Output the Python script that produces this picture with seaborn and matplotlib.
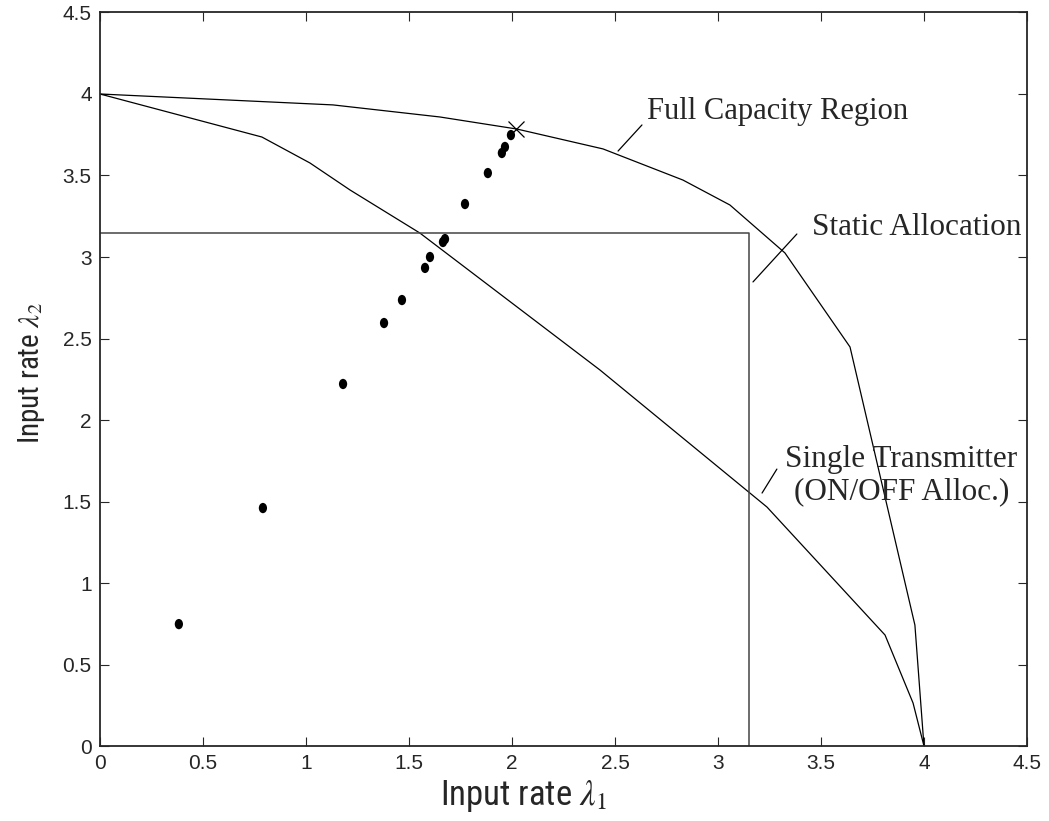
import numpy as np
import pandas as pd
import seaborn as sns
from matplotlib import pyplot as plt
from matplotlib.path import Path

# full capacity region boundary
full_x = [0.0, 1.131, 1.650, 2.024, 2.442, 2.830, 3.058, 3.325, 3.641, 3.956, 4.0]
full_y = [4.0, 3.933, 3.859, 3.785, 3.663, 3.472, 3.319, 3.025, 2.448, 0.742, 0.0]

# single transmitter (ON/OFF allocation)
single_x = [0.0, 0.786, 1.019, 1.214, 1.553, 2.427, 3.238, 3.811, 3.947, 4.0]
single_y = [4.0, 3.736, 3.577, 3.411, 3.147, 2.307, 1.466, 0.681, 0.264, 0.0]

# static allocation box
static_x = [0.0, 3.15, 3.15]
static_y = [3.15, 3.15, 0.0]

# simulated points
dots_x = [0.383, 0.791, 1.180, 1.379, 1.466, 1.578, 1.602, 1.665, 1.675, 1.772, 1.883, 1.951, 1.966, 1.995]
dots_y = [0.748, 1.460, 2.221, 2.595, 2.736, 2.933, 3.000, 3.092, 3.110, 3.325, 3.515, 3.638, 3.675, 3.748]

star_x = [2.019]
star_y = [3.785]

ticks = [0, 0.5, 1, 1.5, 2, 2.5, 3, 3.5, 4, 4.5]
tick_labels = ['0', '0.5', '1', '1.5', '2', '2.5', '3', '3.5', '4', '4.5']

sns.set_style("ticks")
plt.rcParams['font.family'] = ['Liberation Sans', 'DejaVu Sans']
plt.rcParams['mathtext.fontset'] = 'stix'

fig = plt.figure(figsize=(10.49, 8.21), dpi=100)
ax = fig.add_axes([0.0953, 0.0913, 0.8837, 0.8935])

df_full = pd.DataFrame({"x": full_x, "y": full_y})
df_single = pd.DataFrame({"x": single_x, "y": single_y})
df_static = pd.DataFrame({"x": static_x, "y": static_y})
df_dots = pd.DataFrame({"x": dots_x, "y": dots_y})

sns.lineplot(data=df_full, x="x", y="y", sort=False, estimator=None, color='black', linewidth=0.9, ax=ax)
sns.lineplot(data=df_single, x="x", y="y", sort=False, estimator=None, color='black', linewidth=0.9, ax=ax)
sns.lineplot(data=df_static, x="x", y="y", sort=False, estimator=None, color='#444444', linewidth=1.1, ax=ax)

circ = Path.unit_circle()
ellipse = Path(circ.vertices * np.array([0.8, 1.0]), circ.codes)
sns.scatterplot(data=df_dots, x="x", y="y", marker=ellipse, s=55, color='black', edgecolor='none', ax=ax)
ax.plot(star_x, star_y, marker='x', markersize=12, markeredgewidth=0.9, color='black', linestyle='none')

# annotations
serif = ['Liberation Serif', 'DejaVu Serif']
ax.plot([2.515, 2.631], [3.65, 3.81], color='black', linewidth=0.9)
ax.text(2.655, 3.89, "Full Capacity Region", family=serif, fontsize=22, va='center', ha='left')
ax.plot([3.170, 3.383], [2.847, 3.141], color='black', linewidth=0.9)
ax.text(3.456, 3.184, "Static Allocation", family=serif, fontsize=22.5, va='center', ha='left')
ax.plot([3.214, 3.286], [1.552, 1.699], color='black', linewidth=0.9)
ax.text(3.89, 1.66, "Single Transmitter\n(ON/OFF Alloc.)", family=serif, fontsize=22.5,
        va='center', ha='center', multialignment='center', linespacing=1.12)

ax.set_xlim(0, 4.5)
ax.set_ylim(0, 4.5)
ax.set_xticks(ticks)
ax.set_xticklabels(tick_labels)
ax.set_yticks(ticks)
ax.set_yticklabels(tick_labels)
ax.tick_params(direction='in', length=6.5, width=0.8, labelsize=15, top=True, right=True, pad=6)
for s in ax.spines.values():
    s.set_visible(True)
    s.set_linewidth(1.3)

narrow = ['Roboto Condensed', 'Liberation Sans', 'DejaVu Sans']
ax.set_xlabel(r"Input rate $\lambda_1$", family=narrow, fontsize=25)
ax.set_ylabel(r"Input rate $\lambda_2$", family=narrow, fontsize=21)
ax.xaxis.set_label_coords(0.457, -0.044)
ax.yaxis.set_label_coords(-0.057, 0.509)

plt.savefig("out.png", dpi=100)
